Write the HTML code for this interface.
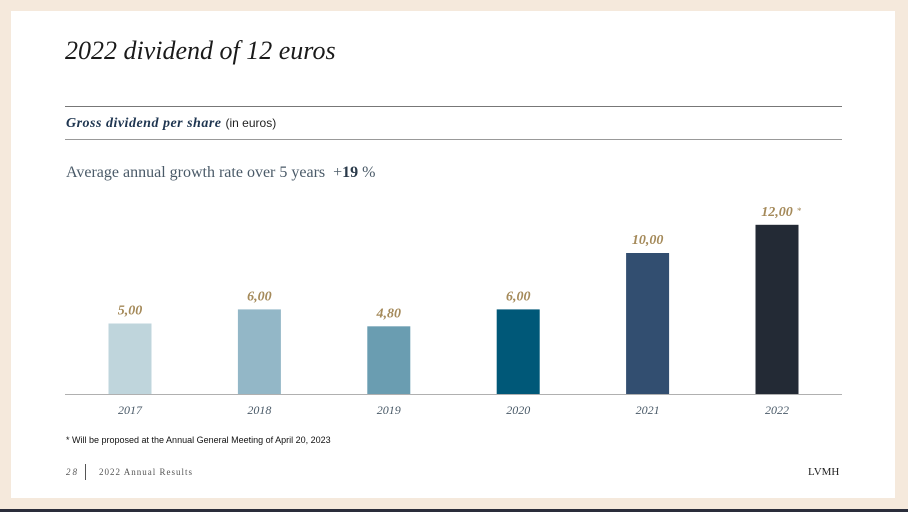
<!DOCTYPE html>
<html><head><meta charset="utf-8"><style>
body{margin:0;width:908px;height:512px;background:#f5e9dc;position:relative;overflow:hidden;font-family:"Liberation Serif",serif}
#card{position:absolute;left:11px;top:11px;width:884px;height:487px;background:#fff}
#bot{position:absolute;left:0;top:509px;width:908px;height:3px;background:#2a2d3a}
.t{position:absolute;white-space:nowrap}
</style></head><body>
<div id="card"></div>
<div id="bot"></div>
<div class="t" style="left:65px;top:36px;font-size:26px;font-style:italic;color:#1a1a1a">2022 dividend of 12 euros</div>
<div class="t" style="left:65px;top:106px;width:777px;height:1px;background:#777"></div>
<div class="t" style="left:66px;top:116px;font-size:14px;font-style:italic;font-weight:bold;color:#1e3550;letter-spacing:0.5px">Gross dividend per share <span style="font-family:'Liberation Sans',sans-serif;font-style:normal;font-weight:normal;font-size:12px;color:#222;letter-spacing:0">(in euros)</span></div>
<div class="t" style="left:65px;top:139px;width:777px;height:1px;background:#999"></div>
<div class="t" style="left:66px;top:164px;font-size:16px;color:#4a5a68">Average annual growth rate over 5 years &nbsp;+<b style="color:#2a3a4a">19</b> %</div>
<svg id="chart" width="908" height="512" style="position:absolute;left:0;top:0"></svg>
<div class="t" style="left:66px;top:435px;font-family:'Liberation Sans',sans-serif;font-size:9px;color:#111">* Will be proposed at the Annual General Meeting of April 20, 2023</div>
<div class="t" style="left:66px;top:467px;font-size:9px;font-style:italic;color:#555;letter-spacing:2px">28</div>
<div class="t" style="left:85px;top:464px;width:1px;height:16px;background:#555"></div>
<div class="t" style="left:99px;top:467px;font-size:9px;color:#555;letter-spacing:1px">2022 Annual Results</div>
<div class="t" style="left:808px;top:466px;font-size:11px;color:#222">LVMH</div>
<script>
const categories=["2017","2018","2019","2020","2021","2022"];
const values=[5.00,6.00,4.80,6.00,10.00,12.00];
const valueLabels=["5,00","6,00","4,80","6,00","10,00","12,00"];
const colors=["#bfd5dc","#93b7c7","#6a9db1","#005878","#324e70","#232a35"];
const svg=document.getElementById('chart');
const NS="http://www.w3.org/2000/svg";
const base=394,scale=14.1,x0=130,step=129.4,bw=43;
const xs=i=>x0+i*step, ys=v=>base-v*scale;
function mk(t,a){const e=document.createElementNS(NS,t);for(const k in a)e.setAttribute(k,a[k]);svg.appendChild(e);return e;}
values.forEach((v,i)=>{
 const r=mk('rect',{x:xs(i)-bw/2,y:ys(v),width:bw,height:base-ys(v),fill:colors[i]});
 
 
 const l=mk('text',{x:xs(i),y:ys(v)-9,'text-anchor':'middle','font-size':14,'font-style':'italic','font-weight':'bold',fill:'#a58a5a','font-family':'Liberation Serif, serif'});
 l.textContent=valueLabels[i];
 
 
 const c=mk('text',{x:xs(i),y:base+20,'text-anchor':'middle','font-size':12,'font-style':'italic',fill:'#4a5a68','font-family':'Liberation Serif, serif'});
 c.textContent=categories[i];
 
 
});
const s=mk('text',{x:xs(5)+20,y:ys(values[5])-11,'font-size':9,fill:'#a58a5a','font-family':'Liberation Serif, serif'});
s.textContent='*';


const ax=mk('line',{x1:65,x2:842,y1:base+0.5,y2:base+0.5,stroke:'#b0b0b0','stroke-width':1});


</script>
</body></html>
